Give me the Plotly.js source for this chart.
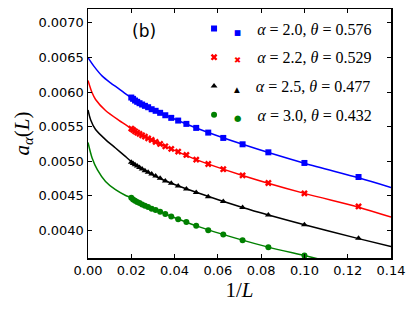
<!DOCTYPE html>
<html><head><meta charset="utf-8">
<script src="https://cdn.plot.ly/plotly-3.0.1.min.js"></script>
<style>html,body{margin:0;padding:0;background:#fff}#c{width:415px;height:312px}</style>
</head><body><div id="c"></div>
<script>
// System sizes L; the horizontal coordinate is 1/L
const sizes = [8,10,12,14,16,18,20,22,24,26,28,30,32,34,36,38,40,42,44,46,48,50];
const invL = sizes.map(l => 1/l);

// Measured a_alpha(L) values
const a20 = [0.004771,0.004974,0.005128,0.005244,0.005336,0.005413,0.005481,0.005539,0.005587,0.005626,0.005664,0.005699,0.005728,0.005751,0.005780,0.005800,0.005819,0.005838,0.005858,0.005877,0.005901,0.005920];
const a22 = [0.004345,0.004534,0.004684,0.004794,0.004884,0.004959,0.005022,0.005090,0.005138,0.005177,0.005215,0.005249,0.005278,0.005307,0.005330,0.005355,0.005374,0.005394,0.005413,0.005432,0.005452,0.005471];
const a25 = [0.003887,0.004080,0.004222,0.004330,0.004416,0.004487,0.004546,0.004597,0.004641,0.004680,0.004715,0.004752,0.004784,0.004813,0.004839,0.004863,0.004886,0.004908,0.004929,0.004949,0.004968,0.004986];
const a30 = [null,0.003635,0.003757,0.003858,0.003939,0.004003,0.004065,0.004119,0.004162,0.004200,0.004235,0.004268,0.004293,0.004312,0.004336,0.004355,0.004374,0.004394,0.004409,0.004428,0.004446,0.004471];

// Fit curves
const fitX20 = [0,0.0027,0.0066,0.0104,0.0143,0.0189,0.025,0.0333,0.05,0.0714,0.1,0.125,0.14];
const fitY20 = [0.006496,0.006374,0.006229,0.006133,0.006046,0.005939,0.00582,0.0057,0.00548,0.005244,0.00497,0.00476,0.00462];
const fitX22 = [0,0.0019,0.0035,0.0081,0.0143,0.0189,0.025,0.0333,0.05,0.0714,0.1,0.125,0.14];
const fitY22 = [0.006167,0.005988,0.005891,0.005732,0.00559,0.005495,0.005374,0.005249,0.005022,0.004794,0.004534,0.004335,0.004191];
const fitX25 = [0,0.0012,0.0035,0.0081,0.0127,0.0174,0.02,0.025,0.0333,0.05,0.0714,0.1,0.125,0.14];
const fitY25 = [0.00574,0.0056,0.005457,0.005312,0.005191,0.005065,0.004995,0.00489,0.00475,0.00455,0.00433,0.00408,0.00388,0.003765];
const fitX30 = [0,0.0019,0.0043,0.0081,0.0127,0.0174,0.02,0.025,0.0333,0.05,0.0714,0.0833,0.1,0.11];
const fitY30 = [0.00527,0.005046,0.004877,0.004707,0.004587,0.004504,0.004471,0.004374,0.004268,0.004065,0.003858,0.003757,0.003635,0.00356];

const labels = ['<i>α</i> = 2.0, <i>θ</i> = 0.576','<i>α</i> = 2.2, <i>θ</i> = 0.529','<i>α</i> = 2.5, <i>θ</i> = 0.477','<i>α</i> = 3.0, <i>θ</i> = 0.432'];
const colors = ['#0000ff','#ff0000','#000000','#008000'];
const symbols = ['square','x','triangle-up','circle'];
const glyphs = ['■','✖','▲','●'];
const glyphSize = [7.5,8.5,7.5,8.5];
const ys = [a20,a22,a25,a30];
const fx = [fitX20,fitX22,fitX25,fitX30];
const fy = [fitY20,fitY22,fitY25,fitY30];

const traces = [];
for (let i=0;i<4;i++){
  traces.push({x:fx[i], y:fy[i], mode:'lines', line:{color:colors[i], width:1.5, shape:'spline', smoothing:0.8}, showlegend:false, hoverinfo:'skip'});
}
for (let i=0;i<4;i++){
  traces.push({x:invL, y:ys[i], mode:'markers', name:'<span style="font-family:DejaVu Sans;font-size:'+glyphSize[i]+'px;color:'+colors[i]+'">'+glyphs[i]+'</span>\u00a0\u00a0\u00a0\u00a0'+labels[i],
    legendgroup:'g'+i,
    marker:{symbol:symbols[i], color:colors[i], size:6, line:{width:0}}});
}

const tickFont = {family:'DejaVu Sans', size:13, color:'#000'};
const layout = {
  width:415, height:312,
  margin:{l:88, r:24, t:9, b:54},
  paper_bgcolor:'#fff', plot_bgcolor:'#fff',
  showlegend:true,
  legend:{x:0.35, y:0.99, xanchor:'left', yanchor:'top', bgcolor:'rgba(0,0,0,0)', borderwidth:0,
    font:{family:'Liberation Serif', size:16, color:'#000'}, tracegroupgap:5, itemwidth:30},
  xaxis:{range:[0,0.14], dtick:0.02, tick0:0, tickformat:'.2f', ticks:'inside', ticklen:4, tickwidth:1, tickcolor:'#000',
    showline:true, linecolor:'#000', linewidth:1.5, mirror:'ticks', showgrid:false, zeroline:false, tickfont:tickFont,
    title:{text:'1/<i>L</i>', font:{family:'Liberation Serif', size:21, color:'#000'}, standoff:1}},
  yaxis:{range:[0.0036,0.0072], dtick:0.0005, tick0:0.004, tickformat:'.4f', ticks:'inside', ticklen:4, tickwidth:1, tickcolor:'#000',
    showline:true, linecolor:'#000', linewidth:1.5, mirror:'ticks', showgrid:false, zeroline:false, tickfont:tickFont,
    title:{text:'<i>a</i><sub><i>α</i></sub>(<i>L</i>)', font:{family:'Liberation Serif', size:21, color:'#000'}, standoff:3}},
  annotations:[{xref:'paper', yref:'paper', x:0.14, y:0.912, xanchor:'left', yanchor:'middle', text:'(b)', showarrow:false,
    font:{family:'DejaVu Sans', size:17, color:'#000'}}]
};
Plotly.newPlot('c', traces, layout, {staticPlot:true, displayModeBar:false});
</script></body></html>
